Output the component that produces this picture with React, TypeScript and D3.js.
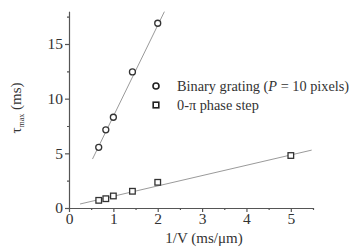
import { useEffect, useRef } from 'react';
import * as d3 from 'd3';

// 1/V values (ms/µm) and measured tau_max (ms)
const gratingX = [0.67, 0.83, 1.0, 1.43, 2.0];
const gratingY = [5.55, 7.15, 8.3, 12.45, 16.9];
const stepX = [0.67, 0.83, 1.0, 1.43, 2.0, 5.0];
const stepY = [0.7, 0.85, 1.1, 1.53, 2.35, 4.8];

// fitted lines: [x0, x1] and slope/intercept
const gratingFit = { from: 0.53, to: 2.15, slope: 8.32, intercept: 0.07 };
const stepFit = { from: 0.25, to: 5.47, slope: 0.944, intercept: 0.13 };

const xTicks = [0, 1, 2, 3, 4, 5];
const yTicks = [0, 5, 10, 15];

const FONT = '"Liberation Serif", "Times New Roman", serif';

const App = () => {
  const svgRef = useRef<SVGSVGElement>(null);

  useEffect(() => {
    const svg = d3.select(svgRef.current);
    svg.selectAll('*').remove();

    const x = d3.scaleLinear().domain([0, 5.5]).range([69, 313]);
    const y = d3.scaleLinear().domain([0, 18]).range([208, 11.2]);
    const axisColor = '#555';

    // minor ticks
    const xMinor = d3.range(0.5, 5.6, 1);
    const yMinor = d3.range(2.5, 18, 5);

    const gx = svg.append('g').attr('transform', `translate(0, ${y(0)})`);
    gx.call(d3.axisBottom(x).tickValues(xTicks).tickSize(4).tickSizeOuter(0).tickPadding(1).tickFormat(d3.format('d')));
    gx.append('g').call(d3.axisBottom(x).tickValues(xMinor).tickSize(2).tickFormat(() => ''))
      .select('.domain').remove();

    const gy = svg.append('g').attr('transform', `translate(${x(0)}, 0)`);
    gy.call(d3.axisLeft(y).tickValues(yTicks).tickSize(4).tickSizeOuter(0).tickPadding(2).tickFormat(d3.format('d')));
    gy.append('g').call(d3.axisLeft(y).tickValues(yMinor).tickSize(2).tickFormat(() => ''))
      .select('.domain').remove();

    svg.selectAll('.domain, .tick line').attr('stroke', axisColor).attr('stroke-width', 1.2);
    svg.selectAll('.tick text').attr('font-family', FONT).attr('font-size', 15.5).attr('fill', '#333');

    // fit lines
    [gratingFit, stepFit].forEach(f => {
      svg.append('line')
        .attr('x1', x(f.from)).attr('y1', y(f.slope * f.from + f.intercept))
        .attr('x2', x(f.to)).attr('y2', y(f.slope * f.to + f.intercept))
        .attr('stroke', '#9a9a9a').attr('stroke-width', 1);
    });

    // circles
    svg.append('g').selectAll('circle')
      .data(gratingX.map((d, i) => [d, gratingY[i]]))
      .enter().append('circle')
      .attr('cx', d => x(d[0])).attr('cy', d => y(d[1])).attr('r', 3)
      .attr('fill', 'white').attr('stroke', '#333').attr('stroke-width', 1.3);

    // squares
    svg.append('g').selectAll('rect')
      .data(stepX.map((d, i) => [d, stepY[i]]))
      .enter().append('rect')
      .attr('x', d => x(d[0]) - 2.8).attr('y', d => y(d[1]) - 2.8)
      .attr('width', 5.6).attr('height', 5.6)
      .attr('fill', 'white').attr('stroke', '#333').attr('stroke-width', 1.3);

    // legend
    const leg = svg.append('g').attr('font-family', FONT).attr('font-size', 14.3).attr('fill', '#333');
    leg.append('circle').attr('cx', 156).attr('cy', 86).attr('r', 3)
      .attr('fill', 'white').attr('stroke', '#222').attr('stroke-width', 1.6);
    leg.append('rect').attr('x', 153.2).attr('y', 102.2).attr('width', 5.6).attr('height', 5.6)
      .attr('fill', 'white').attr('stroke', '#222').attr('stroke-width', 1.6);
    const t1 = leg.append('text').attr('x', 177).attr('y', 91);
    t1.append('tspan').text('Binary grating (');
    t1.append('tspan').attr('font-style', 'italic').text('P');
    t1.append('tspan').text(' = 10 pixels)');
    leg.append('text').attr('x', 177).attr('y', 110).text('0-π phase step');

    // axis titles
    svg.append('text').attr('x', 204).attr('y', 243).attr('text-anchor', 'middle')
      .attr('font-family', FONT).attr('font-size', 15).attr('fill', '#333')
      .text('1/V (ms/μm)');
    const yl = svg.append('text')
      .attr('transform', 'translate(21, 108) rotate(-90)')
      .attr('text-anchor', 'middle')
      .attr('font-family', FONT).attr('font-size', 15).attr('fill', '#333');
    yl.append('tspan').text('τ');
    yl.append('tspan').attr('font-size', 8).attr('dy', 3).text('max');
    yl.append('tspan').attr('dy', -3).text(' (ms)');
  }, []);

  return (
    <div style={{ position: 'absolute', left: 0, top: 0 }}>
      <svg ref={svgRef} width={355} height={247} style={{ display: 'block', background: 'white' }}></svg>
    </div>
  );
};

export default App;
